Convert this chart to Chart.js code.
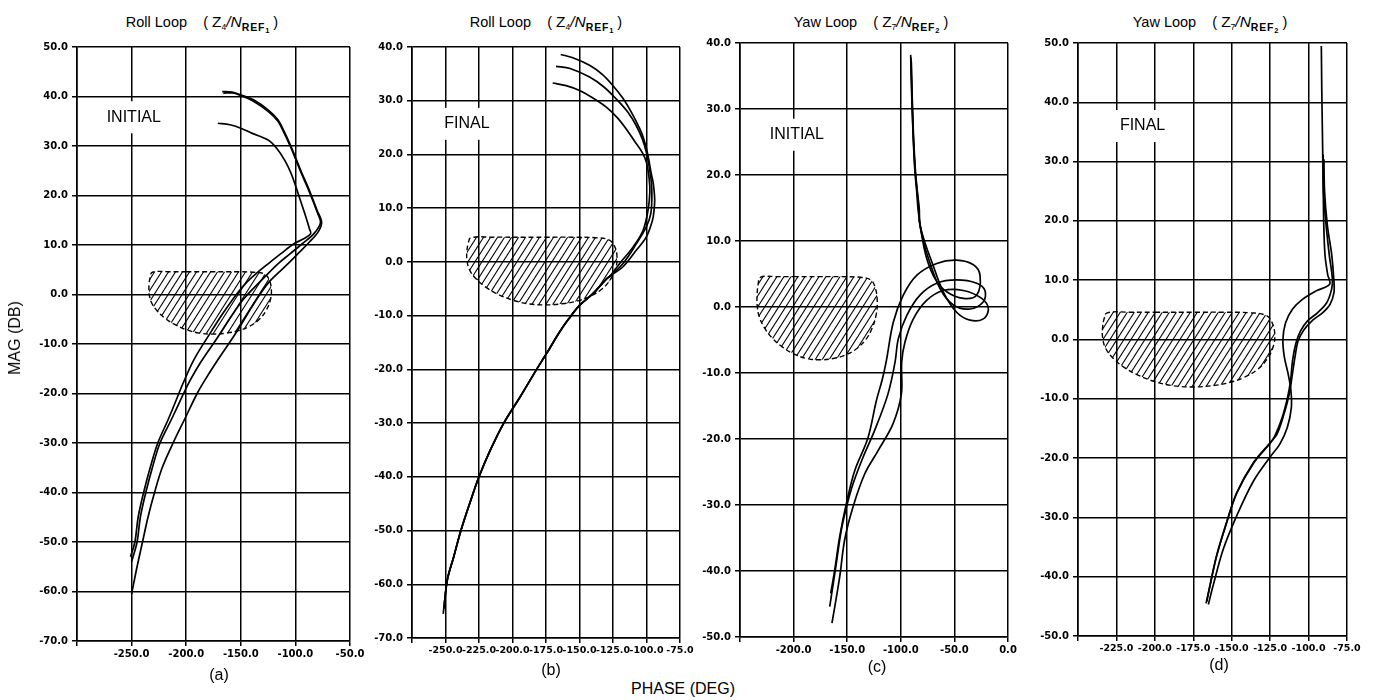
<!DOCTYPE html>
<html>
<head>
<meta charset="utf-8">
<script src="https://cdn.jsdelivr.net/npm/chart.js@4.4.0/dist/chart.umd.min.js"></script>
<style>
  body { margin: 0; background: #fff; width: 1378px; height: 700px; position: relative; overflow: hidden;
         font-family: "Liberation Sans", Arial, sans-serif; color: #000; }
  canvas { position: absolute; }
  .title { position: absolute; top: 13px; font-size: 14.5px; line-height: 18px; text-align: center; white-space: pre; }
  .big { font-size: 15.5px; }
  .sb { font-size: 8.5px; vertical-align: -3px; }
  .sl { font-style: italic; font-size: 15.5px; }
  .sr { font-size: 10.5px; font-weight: bold; letter-spacing: 0.8px; vertical-align: -4px; }
  .sb2 { font-size: 7.5px; letter-spacing: 0; vertical-align: -2px; }
  .lab { position: absolute; font-size: 16px; white-space: nowrap; transform: translate(-50%, -50%); }
</style>
</head>
<body>
<div class="title" style="left:92px;width:220px">Roll Loop    ( <span class="big">Z</span><span class="sb">4</span><span class="sl">/N</span><span class="sr">REF<span class="sb2">1</span></span> )</div>
<div class="title" style="left:436px;width:220px">Roll Loop    ( <span class="big">Z</span><span class="sb">4</span><span class="sl">/N</span><span class="sr">REF<span class="sb2">1</span></span> )</div>
<div class="title" style="left:761px;width:220px">Yaw Loop    ( <span class="big">Z</span><span class="sb">7</span><span class="sl">/N</span><span class="sr">REF<span class="sb2">2</span></span> )</div>
<div class="title" style="left:1100px;width:220px">Yaw Loop    ( <span class="big">Z</span><span class="sb">7</span><span class="sl">/N</span><span class="sr">REF<span class="sb2">2</span></span> )</div>

<canvas id="pa"></canvas>
<canvas id="pb"></canvas>
<canvas id="pc"></canvas>
<canvas id="pd"></canvas>

<div class="lab" style="left:15px;top:338px;transform:translate(-50%,-50%) rotate(-90deg)">MAG (DB)</div>
<div class="lab" style="left:683px;top:689px">PHASE (DEG)</div>
<div class="lab" style="left:219px;top:675px">(a)</div>
<div class="lab" style="left:551px;top:670px">(b)</div>
<div class="lab" style="left:877px;top:667px">(c)</div>
<div class="lab" style="left:1219px;top:665px">(d)</div>

<script>
// exclusion zone (same in all four plots)
const zonePhase = [-200, -175, -155, -138, -128, -124, -122, -123, -127, -133, -142, -152, -163, -175, -188, -200, -211, -220, -227, -232, -234, -234, -233, -231, -215, -200];
const zoneGain  = [4.6, 4.6, 4.6, 4.5, 4.1, 3.0, 1.0, -1.2, -3.3, -5.0, -6.4, -7.3, -7.8, -8.0, -7.8, -7.1, -6.0, -4.7, -3.2, -1.5, 0.3, 2.0, 3.5, 4.5, 4.6, 4.6];

// (a) roll loop, initial
const aPhase1 = [-167, -158, -150, -138, -125, -116, -110, -104, -99, -94, -89, -85, -80, -76, -79, -88, -97, -106, -116, -125, -135, -144, -156, -171, -184, -190, -201, -212, -222, -229, -235, -240, -245, -250];
const aGain1  = [41.0, 40.9, 40.3, 39.3, 37.3, 35.3, 32.8, 29.9, 27.2, 24.5, 22.0, 19.8, 16.9, 14.7, 12.7, 10.4, 8.4, 6.4, 4.3, 2.3, -0.8, -4.0, -8.3, -13.2, -17.7, -20.0, -25.0, -30.0, -35.0, -40.0, -45.0, -50.0, -55.0, -60.5];
const aPhase2 = [-166, -157, -149, -138, -125, -116, -110, -104, -99, -94, -89, -85, -80, -77, -83, -94, -105, -116, -131, -147, -159, -171, -187, -198, -203, -213, -224, -231, -237, -242, -245, -250];
const aGain2  = [40.7, 40.7, 40.1, 39.0, 37.0, 35.0, 32.5, 29.6, 26.9, 24.2, 21.7, 19.5, 16.6, 14.5, 12.3, 10.2, 8.2, 6.2, 2.9, -0.8, -4.5, -8.6, -13.8, -18.0, -20.3, -25.0, -30.0, -35.0, -40.0, -45.0, -50.0, -54.0];
const aPhase3 = [-171, -160, -150, -140, -125, -117, -110, -104, -97.5, -91.5, -87, -86, -92, -101, -113, -125, -135, -144, -153, -166, -178, -193, -204, -206, -216, -226, -233, -239, -244, -247, -251];
const aGain3  = [34.6, 34.3, 33.6, 32.6, 31.2, 29.5, 27.2, 24.5, 20.4, 16.4, 13.2, 12.3, 11.3, 10.3, 8.3, 6.2, 4.4, 2.6, 0.3, -3.7, -7.8, -13.2, -18.5, -19.6, -25.0, -30.0, -35.0, -40.0, -45.0, -50.0, -53.0];

// (b) roll loop, final
const bPhase1 = [-164, -155, -142.5, -133, -125, -118, -112.5, -108, -103.8, -101, -98.8, -96.5, -95, -93.9, -94.5, -95.5, -100, -107.5, -117.5];
const bGain1  = [38.6, 38.0, 36.6, 34.9, 32.8, 30.6, 28.4, 26.3, 24.1, 22.0, 19.7, 16.5, 14.7, 11.6, 9.3, 7.8, 4.7, 2.2, -0.9];
const bPhase2 = [-167.5, -157, -142.5, -132, -122.5, -114, -107.5, -103, -100, -97.5, -96.3, -96, -96.8, -100, -107.5, -117.5];
const bGain2  = [36.4, 36.0, 34.4, 32.6, 30.3, 27.9, 25.3, 22.8, 20.3, 17.0, 14.7, 12.0, 9.0, 6.6, 3.4, -0.3];
const bPhase3 = [-170, -160, -150, -140, -130, -122, -115, -108.5, -103, -100, -98, -97.5, -98.8, -102.5, -110, -120];
const bGain3  = [33.3, 32.8, 31.9, 30.5, 28.8, 26.9, 24.7, 22.3, 20.3, 18.5, 15.5, 13.0, 9.7, 5.9, 2.8, -0.3];
const bTailPhase = [-127, -130, -140, -150, -158, -165, -172.5, -176, -182, -194, -206.5, -216.5, -225, -232, -238.5, -244, -248.5, -250.7];
const bTailGain  = [-2.6, -3.2, -5.9, -8.1, -10.6, -13.1, -16.2, -17.6, -20.0, -25.0, -30.0, -35.0, -40.0, -45.0, -50.0, -55.0, -59.0, -63.3];
const bEndPhase = [-251.7, -251.2, -250.4];
const bEndGain  = [-65.5, -64.6, -63.8];

// (c) yaw loop, initial
const cPhase1 = [-90.8, -89.8, -88.3, -86.8, -85.2, -83.7, -80.5, -75.9, -68.1, -57.2, -41.7, -29.2, -26.1, -32.3, -47.9, -66.5, -85.2, -97.7, -107, -113.2, -117, -122.8, -130.6, -143, -150.8, -157, -161.7, -165.4];
const cGain1  = [38.2, 32.0, 25.2, 20.5, 17.6, 14.5, 10.9, 7.4, 4.3, 2.3, 1.3, 1.8, 4.8, 6.4, 7.1, 6.6, 4.8, 1.8, -2.3, -7.9, -10.8, -14.2, -19.8, -24.8, -29.8, -34.8, -39.9, -43.4];
const cPhase2 = [-90.5, -89.6, -88.2, -86.5, -84.8, -83.2, -82.7, -79, -74.3, -63.4, -51, -35.4, -23, -21.5, -29.2, -47.9, -66.5, -82.1, -94.5, -102.3, -105.4, -112, -124.4, -135.3, -144.6, -149.9, -155.5, -160.2, -166.3];
const cGain2  = [37.8, 32.0, 25.3, 20.5, 17.5, 14.8, 13.0, 10.0, 7.4, 2.8, 0.3, -0.3, 0.8, 2.5, 3.6, 4.1, 3.6, 1.8, -1.3, -4.8, -8.4, -13.2, -18.7, -22.8, -26.8, -29.8, -33.8, -38.9, -45.4];
const cPhase3 = [-90.2, -89.4, -88, -86.3, -84.5, -82.8, -82.1, -77, -71.2, -60.4, -47.9, -35.4, -23, -18.3, -24.5, -41.7, -60.4, -75.9, -88.3, -96.1, -99.2, -99.5, -107.3, -121.3, -133.7, -144.6, -152.4, -157, -164.2];
const cGain3  = [37.2, 32.0, 25.4, 20.5, 17.4, 14.9, 12.5, 9.5, 6.9, 2.3, -0.8, -2.0, -1.8, -0.3, 1.3, 2.5, 2.5, 1.0, -1.8, -5.3, -8.4, -13.2, -17.7, -21.8, -25.3, -30.3, -35.3, -40.9, -47.9];

// (d) yaw loop, final
const dPhase1 = [-91.7, -91.4, -91.0, -90.7, -90.4, -90.1, -89.3, -87.6, -86.3, -95.1, -103.8, -110.5, -115, -116.7, -115.8, -113.3, -111.5, -111.2, -113.8, -118.6, -125, -135.9, -146.7, -155.4, -162, -165.2];
const dGain1  = [49.5, 42.0, 35.0, 29.6, 24.0, 19.3, 14.2, 11.0, 9.3, 8.2, 6.8, 5.1, 2.8, 0.0, -2.9, -5.8, -8.6, -11.5, -14.8, -17.6, -19.8, -23.9, -29.7, -35.3, -41.4, -44.7];
const dPhase2 = [-90.5, -90.3, -88.6, -86.5, -84.5, -85, -88.2, -94.2, -100.8, -105.3, -108.2, -110.4, -111.7, -113.6, -117.1, -122, -125, -135.9, -146.7, -153.3, -159.8, -164.1, -166.7];
const dGain2  = [31.2, 25.0, 19.3, 14.2, 10.2, 8.5, 6.2, 4.5, 3.1, 1.4, -0.6, -3.5, -6.9, -9.7, -13.1, -16.3, -17.5, -20.9, -25.9, -30.9, -36.5, -41.5, -44.5];
const dPhase3 = [-90, -89.6, -87.8, -84.9, -83.6, -83.5, -86.1, -90.9, -97.1, -103.1, -106.9, -108.8, -110.8, -112.5, -115.9, -120.6, -125, -135.9, -146.7, -153.3, -159.8, -164.1, -166.2];
const dGain3  = [30.4, 25.0, 19.3, 14.2, 10.2, 7.9, 5.9, 4.5, 3.3, 1.6, -0.3, -2.9, -6.3, -9.1, -12.5, -16.0, -17.4, -20.8, -25.8, -30.8, -36.4, -41.4, -44.2];

function pts(px, py) {
  return px.map((p, i) => ({ x: p, y: py[i] }));
}

function hatch() {
  const c = document.createElement('canvas');
  c.width = 7; c.height = 11;
  const g = c.getContext('2d');
  g.strokeStyle = '#000';
  g.lineWidth = 1.1;
  for (const dx of [-7, 0, 7]) {
    g.beginPath();
    g.moveTo(dx - 7, 22);
    g.lineTo(dx + 14, -11);
    g.stroke();
  }
  return g.createPattern(c, 'repeat');
}

const notePlugin = {
  id: 'note',
  beforeDatasetsDraw(chart, args, opts) {
    if (!opts.text) return;
    const { ctx, scales } = chart;
    const x = scales.x.getPixelForValue(opts.x);
    const y = scales.y.getPixelForValue(opts.y);
    ctx.save();
    ctx.font = '16px "Liberation Sans", Arial, sans-serif';
    const w = ctx.measureText(opts.text).width;
    ctx.fillStyle = '#fff';
    ctx.fillRect(x - w / 2 - 8, y - 16, w + 16, 32);
    ctx.fillStyle = '#000';
    ctx.textAlign = 'center';
    ctx.textBaseline = 'middle';
    ctx.fillText(opts.text, x, y);
    ctx.restore();
  }
};

function curve(data) {
  return { data, showLine: true, borderColor: '#000', borderWidth: 1.7, pointRadius: 0, tension: 0.35, fill: false };
}

function zone() {
  return {
    data: pts(zonePhase, zoneGain), showLine: true, borderColor: '#000', borderWidth: 1.4,
    borderDash: [5, 3], pointRadius: 0, tension: 0.4, fill: 'shape', backgroundColor: hatch()
  };
}

function panel(id, area, xr, yr, xFont, note, lines) {
  const cv = document.getElementById(id);
  cv.width = area.right - area.left + 80;
  cv.height = area.bottom - area.top + 40;
  cv.style.left = (area.left - 60) + 'px';
  cv.style.top = (area.top - 10) + 'px';

  const tickFont = { family: 'DejaVu Sans', weight: 'bold', size: 10 };
  new Chart(cv, {
    type: 'scatter',
    data: { datasets: [zone(), ...lines.map(curve)] },
    options: {
      responsive: false,
      animation: false,
      layout: { padding: { top: 10, right: 20, left: 0, bottom: 0 } },
      plugins: { legend: { display: false }, tooltip: { enabled: false }, note },
      scales: {
        x: {
          type: 'linear', min: xr[0], max: xr[1],
          ticks: { stepSize: xr[2], autoSkip: false, maxRotation: 0, color: '#000', padding: 2,
                   font: { ...tickFont, size: xFont },
                   callback: v => v === xr[0] ? '' : v.toFixed(1) },
          grid: { color: '#000', lineWidth: 1.5, tickLength: 5 },
          border: { color: '#000', width: 1.6 },
          afterFit: s => { s.height = 30; }
        },
        y: {
          type: 'linear', min: yr[0], max: yr[1],
          ticks: { stepSize: 10, color: '#000', padding: 4, font: tickFont,
                   callback: v => v.toFixed(1) },
          grid: { color: '#000', lineWidth: 1.5, tickLength: 5 },
          border: { color: '#000', width: 1.6 },
          afterFit: s => { s.width = 60; }
        }
      }
    },
    plugins: [notePlugin]
  });
}

panel('pa', { left: 77, top: 47, right: 350, bottom: 641 }, [-300, -50, 50], [-70, 50], 10,
  { text: 'INITIAL', x: -248, y: 35.8 },
  [pts(aPhase1, aGain1), pts(aPhase2, aGain2), pts(aPhase3, aGain3)]);

panel('pb', { left: 412, top: 47, right: 680, bottom: 638 }, [-275, -75, 25], [-70, 40], 9.5,
  { text: 'FINAL', x: -234, y: 25.7 },
  [1, 2, 3].map(k => {
    const hp = [bPhase1, bPhase2, bPhase3][k - 1];
    const hg = [bGain1, bGain2, bGain3][k - 1];
    return pts(hp.concat(bTailPhase, [bEndPhase[k - 1]]), hg.concat(bTailGain, [bEndGain[k - 1]]));
  }));

panel('pc', { left: 740, top: 43, right: 1008, bottom: 637 }, [-250, 0, 50], [-50, 40], 10,
  { text: 'INITIAL', x: -197, y: 26.1 },
  [pts(cPhase1, cGain1), pts(cPhase2, cGain2), pts(cPhase3, cGain3)]);

panel('pd', { left: 1078, top: 43, right: 1347, bottom: 636 }, [-250, -75, 25], [-50, 50], 9.5,
  { text: 'FINAL', x: -208, y: 36.0 },
  [pts(dPhase1, dGain1), pts(dPhase2, dGain2), pts(dPhase3, dGain3)]);
</script>
</body>
</html>
